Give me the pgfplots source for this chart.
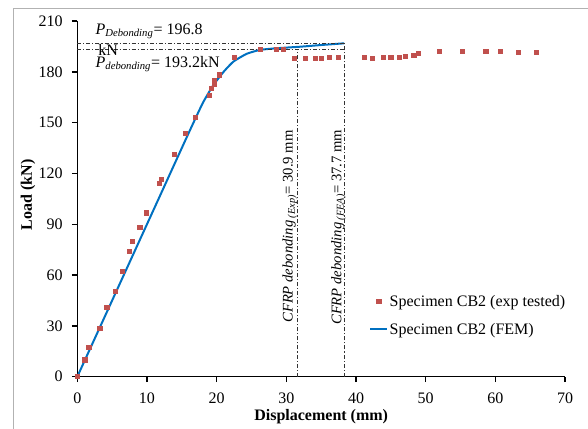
\documentclass[border=0pt]{standalone}
\usepackage{fontspec}
\setmainfont{Liberation Serif}
\usepackage{pgfplots}
\pgfplotsset{compat=1.18}
\definecolor{expred}{HTML}{C0504D}
\definecolor{femblue}{HTML}{0070C0}
\pgfplotsset{
	markleg/.style={legend image code/.code={\draw[##1] plot coordinates {(0.225cm,0cm)};}},
	lineleg/.style={legend image code/.code={\draw[##1] (0cm,0cm) -- (0.45cm,0cm);}},
	refline/.style={forget plot, black!80, line width=0.8pt, dash pattern=on 3pt off 1.5pt on 0.8pt off 1.5pt},
}

\begin{document}
\begin{tikzpicture}[font=\fontsize{12}{14}\selectfont]
\useasboundingbox (0,0) rectangle (441pt,321pt);
\draw[gray!60, line width=0.75pt] (9.75pt,-1pt) -- (9.75pt,314.25pt) -- (442pt,314.25pt);
\begin{axis}[at={(57.98pt,38.48pt)}, anchor=south west, scale only axis,
	width=365.8pt, height=266.8pt,
	xmin=0,xmax=70,ymin=0,ymax=210,
	axis lines=left, axis line style={-, line width=1.1pt},
	xtick={0,10,...,70}, ytick={0,30,...,210},
	tick align=outside, major tick length=4pt, tick style={line width=1.1pt, black},
	/pgf/number format/assume math mode=true,
	tick label style={font=\fontsize{12}{14}\selectfont},
	yticklabel style={xshift=-3.5pt},
	xticklabel style={yshift=-4.5pt},
	every axis x label/.style={at={(axis description cs:0.5,-0.112)},anchor=center},
	every axis y label/.style={at={(axis description cs:-0.101,0.511)},rotate=90,anchor=center},
	xlabel={\bfseries Displacement (mm)}, ylabel={\bfseries Load (kN)},
	legend style={at={(axis description cs:0.59,0.245)}, anchor=north west, draw=none, fill=none,
		font=\fontsize{12}{14}\selectfont, row sep=7pt, nodes={inner xsep=1pt}},
	legend cell align=left,
	clip=false]
\addplot[only marks, mark=square*, mark size=1.6pt, color=expred, markleg,
	mark options={line width=0pt}]
coordinates {(0,0)(1.11,9.9)(1.68,17.4)(3.26,28.6)(4.27,40.7)(5.46,50.1)(6.47,61.9)
(7.47,73.8)(7.96,80.0)(9.01,88.0)(9.91,96.6)(11.78,113.9)(12.13,116.2)(13.94,131.3)
(15.52,143.7)(17.01,153.2)(18.97,165.9)(19.31,170.3)(19.68,172.8)(19.68,174.7)
(20.40,178.1)(22.51,188.3)(26.29,193.2)(28.55,193.2)(29.6,193.2)(31.13,188.0)
(32.79,188.0)(34.15,188.0)(35.09,188.0)(36.24,188.5)(37.46,188.5)(41.19,188.5)
(42.41,188.0)(43.97,188.4)(45.03,188.5)(46.26,188.5)(47.08,188.9)(48.33,189.5)
(48.95,190.9)(51.97,191.9)(55.30,191.9)(58.65,191.9)(60.73,191.9)(63.28,191.3)(65.93,191.3)};
\addlegendentry{Specimen CB2 (exp tested)}
\addplot[no marks, smooth, tension=0.3, line width=1.5pt, color=femblue, lineleg]
coordinates {(0,0)(4,36)(8,72)(12,108)(16,144)(18,161.5)(19.5,172)(21,180)(22.4,186)
(24.3,190.6)(26.2,192.9)(28.6,193.9)(32,194.8)(35,195.8)(38.3,196.8)};
\addlegendentry{Specimen CB2 (FEM)}
% debonding markers
\addplot[refline] coordinates {(0,196.8)(38.3,196.8)};
\addplot[refline] coordinates {(0,193.2)(38.3,193.2)};
\addplot[refline] coordinates {(31.6,0)(31.6,193.2)};
\addplot[refline] coordinates {(38.3,0)(38.3,196.8)};
\node[anchor=base west, inner sep=0pt] at (axis cs:2.6,202.3)
	{\textit{P}\textsubscript{\textit{Debonding}}= 196.8};
\node[anchor=base west, inner sep=0pt] at (axis cs:3.0,189.9) {kN};
\node[anchor=base west, inner sep=0pt] at (axis cs:2.6,182.8)
	{\textit{P}\textsubscript{\textit{debonding}}= 193.2kN};
\begin{scope}[font=\fontsize{11}{13}\selectfont]
\node[rotate=90, anchor=base west, inner sep=0pt] at (axis cs:30.9,31.7)
	{\textit{CFRP debonding}\,\textsubscript{\textit{(Exp)}}= 30.9 mm};
\node[rotate=90, anchor=base west, inner sep=0pt] at (axis cs:37.9,30.5)
	{\textit{CFRP debonding}\,\textsubscript{\textit{(FEA)}}= 37.7 mm};
\end{scope}
\end{axis}
\end{tikzpicture}
\end{document}
